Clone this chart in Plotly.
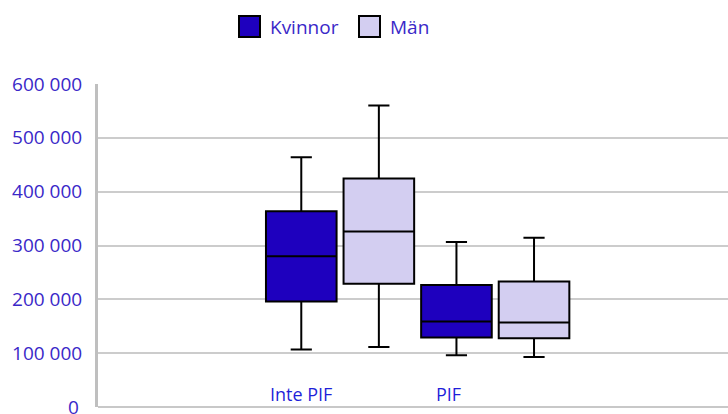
import plotly.graph_objects as go

# Data
groups = ["Inte PIF", "PIF"]
series = ["Kvinnor", "Män"]
kv_lower = [107000, 96000]
kv_q1 = [196000, 129000]
kv_median = [280000, 159000]
kv_q3 = [363500, 226500]
kv_upper = [464000, 306500]

man_lower = [111500, 93000]
man_q1 = [229000, 127500]
man_median = [326000, 157000]
man_q3 = [424500, 233000]
man_upper = [560000, 314500]

y_ticks = [100000, 200000, 300000, 400000, 500000, 600000]
y_ticktext = ["100 000", "200 000", "300 000", "400 000", "500 000", "600 000"]
zero_label = "0"

# positions: each group has two boxes side by side
kv_pos = [2 * i for i in range(len(groups))]
man_pos = [2 * i + 1 for i in range(len(groups))]

KV_COLOR = "#1E00BE"
MAN_COLOR = "#D3CEF1"
TEXT_COLOR = "#3A28C8"
FONT = "Open Sans"

fig = go.Figure()
fig.add_trace(go.Box(
    name=series[0], x=kv_pos, q1=kv_q1, median=kv_median, q3=kv_q3,
    lowerfence=kv_lower, upperfence=kv_upper,
    fillcolor=KV_COLOR, line=dict(color="#000000", width=2),
    width=0.91, whiskerwidth=0.3, boxpoints=False, showlegend=False,
    hoverinfo="skip"))
fig.add_trace(go.Box(
    name=series[1], x=man_pos, q1=man_q1, median=man_median, q3=man_q3,
    lowerfence=man_lower, upperfence=man_upper,
    fillcolor=MAN_COLOR, line=dict(color="#000000", width=2),
    width=0.91, whiskerwidth=0.3, boxpoints=False, showlegend=False,
    hoverinfo="skip"))

W, H = 728, 414
ML, MR, MT, MB = 98, 0, 84, 7
pw, ph = W - ML - MR, H - MT - MB

def px_x(p):
    return (p - ML) / pw

def px_y(p):
    return (H - MB - p) / ph

# zero tick label (drawn as text, cut by the bottom edge as in the reference)
fig.add_annotation(x=px_x(81), xref="paper", y=0, yref="y", text=zero_label,
                   showarrow=False, xanchor="right", yanchor="middle",
                   font=dict(family=FONT, size=19, color=TEXT_COLOR))

# category labels inside the plot, above the zero line
label_x = [kv_pos[0], kv_pos[1] - 0.1]
for g, xv in zip(groups, label_x):
    fig.add_annotation(x=xv, xref="x", y=px_y(393.5), yref="paper", text=g,
                       showarrow=False, yanchor="middle", xanchor="center",
                       font=dict(family=FONT, size=18, color="#1F1FD9"))

# manual legend
legend_items = [(series[0], KV_COLOR, 239), (series[1], MAN_COLOR, 359)]
for name, col, x0 in legend_items:
    fig.add_shape(type="rect", xref="paper", yref="paper",
                  x0=px_x(x0), x1=px_x(x0 + 21), y0=px_y(37), y1=px_y(16),
                  fillcolor=col, line=dict(color="#000000", width=2))
    fig.add_annotation(x=px_x(x0 + 29), y=px_y(27), xref="paper", yref="paper",
                       text=name, showarrow=False, xanchor="left", yanchor="middle",
                       font=dict(family=FONT, size=19, color=TEXT_COLOR))

fig.update_layout(
    width=W, height=H,
    margin=dict(l=ML, r=MR, t=MT, b=MB, autoexpand=False),
    paper_bgcolor="white", plot_bgcolor="white",
    boxmode="overlay",
    font=dict(family=FONT, size=19, color=TEXT_COLOR),
)
fig.update_xaxes(range=[-2.62, 5.5], showgrid=False, showticklabels=False,
                 zeroline=False, showline=False, ticks="", automargin=False)
fig.update_yaxes(range=[0, 600000], tickvals=y_ticks, ticktext=y_ticktext,
                 showgrid=True, gridcolor="#CCCCCC", gridwidth=1.5,
                 zeroline=True, zerolinecolor="#C8C8C8", zerolinewidth=2,
                 showline=True, linecolor="#BFBFBF", linewidth=3,
                 ticks="", ticklabelstandoff=9, automargin=False,
                 tickfont=dict(family=FONT, size=19, color=TEXT_COLOR))

fig.write_html("out.html",
               config={"displayModeBar": False},
               post_script="document.body.style.margin='0px';document.body.style.overflow='hidden';")
